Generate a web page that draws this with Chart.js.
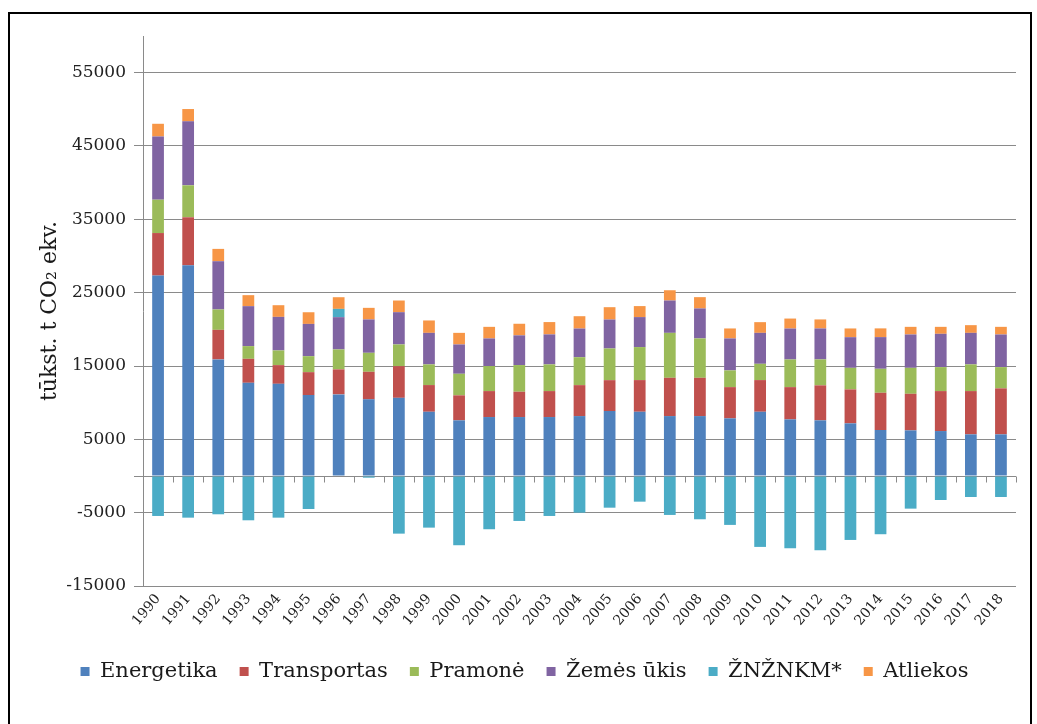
<!DOCTYPE html>
<html lang="lt">
<head>
<meta charset="utf-8">
<title>Šiltnamio efektą sukeliančių dujų emisijos</title>
<script src="https://cdn.jsdelivr.net/npm/chart.js@4.4.1/dist/chart.umd.min.js"></script>
<style>
    html, body { margin: 0; padding: 0; background: #fff; }
    #wrap { position: absolute; left: 0; top: 0; width: 1037px; height: 724px; }
    #frame {
        position: absolute; left: 8px; top: 12px; width: 1020px; height: 720px;
        border: 2px solid #000; pointer-events: none;
    }
</style>
</head>
<body>
<div id="wrap"><canvas id="emissionsChart"></canvas></div>
<div id="frame"></div>
<script>
// Data (tūkst. t CO2 ekv.)
const years = ['1990', '1991', '1992', '1993', '1994', '1995', '1996', '1997', '1998', '1999',
    '2000', '2001', '2002', '2003', '2004', '2005', '2006', '2007', '2008', '2009',
    '2010', '2011', '2012', '2013', '2014', '2015', '2016', '2017', '2018'];

const energetika = [27330, 28740, 15900, 12710, 12570, 11030, 11130, 10450, 10660, 8760,
    7590, 8040, 8040, 8040, 8170, 8850, 8760, 8170, 8170, 7860,
    8760, 7720, 7590, 7180, 6270, 6220, 6130, 5680, 5680];

const transportas = [5800, 6540, 4030, 3270, 2550, 3130, 3410, 3760, 4320, 3640,
    3410, 3540, 3450, 3540, 4220, 4220, 4320, 5220, 5220, 4260,
    4320, 4400, 4770, 4630, 5080, 4990, 5450, 5900, 6270];

const pramone = [4550, 4360, 2780, 1730, 2000, 2180, 2720, 2590, 2960, 2820,
    2940, 3410, 3640, 3640, 3810, 4320, 4500, 6130, 5370, 2280,
    2220, 3770, 3540, 2940, 3270, 3540, 3270, 3640, 2900];

const zemesUkis = [8620, 8720, 6580, 5450, 4580, 4400, 4400, 4550, 4400, 4300,
    4000, 3770, 4050, 4090, 3910, 3950, 4090, 4410, 4090, 4360,
    4220, 4220, 4220, 4180, 4320, 4550, 4540, 4300, 4450];

const znznkm = [-5450, -5680, -5220, -6040, -5680, -4500, 1130, -230, -7860, -7040,
    -9440, -7260, -6130, -5450, -5000, -4320, -3500, -5310, -5900, -6670,
    -9670, -9850, -10120, -8720, -7940, -4450, -3270, -2860, -2860];

const atliekos = [1730, 1680, 1680, 1500, 1590, 1590, 1590, 1580, 1590, 1690,
    1580, 1580, 1580, 1680, 1680, 1680, 1500, 1400, 1540, 1360,
    1460, 1360, 1230, 1190, 1190, 1040, 950, 1050, 1040];

const yTicks = [-15000, -5000, 0, 5000, 15000, 25000, 35000, 45000, 55000];

const gridColor = '#8a8a8a';
const serif = "'DejaVu Serif', 'Liberation Serif', serif";

Chart.defaults.font.family = serif;
Chart.defaults.color = '#222';

// small tick marks between categories on the zero line
const zeroTicks = {
    id: 'zeroTicks',
    afterDatasetsDraw(chart) {
        const { ctx, scales: { x, y } } = chart;
        const y0 = Math.round(y.getPixelForValue(0)) + 0.5;
        ctx.save();
        ctx.strokeStyle = gridColor;
        ctx.lineWidth = 1;
        for (let i = 0; i <= years.length; i++) {
            const px = Math.round(x.getPixelForValue(i - 0.5)) + 0.5;
            ctx.beginPath();
            ctx.moveTo(px, y0);
            ctx.lineTo(px, y0 + 6);
            ctx.stroke();
        }
        ctx.restore();
    }
};

function bars(label, data, color) {
    return {
        label: label,
        data: data,
        backgroundColor: color,
        borderWidth: 0,
        barPercentage: 0.39,
        categoryPercentage: 1.0
    };
}

new Chart(document.getElementById('emissionsChart'), {
    type: 'bar',
    data: {
        labels: years,
        datasets: [
            bars('Energetika', energetika, '#4f81bd'),
            bars('Transportas', transportas, '#c0504d'),
            bars('Pramonė', pramone, '#9bbb59'),
            bars('Žemės ūkis', zemesUkis, '#8064a2'),
            bars('ŽNŽNKM*', znznkm, '#4bacc6'),
            bars('Atliekos', atliekos, '#f79646')
        ]
    },
    options: {
        responsive: true,
        maintainAspectRatio: false,
        animation: false,
        layout: {
            padding: { left: 33, top: 36, right: 21, bottom: 32 }
        },
        plugins: {
            tooltip: { enabled: false },
            legend: {
                position: 'bottom',
                labels: {
                    font: { size: 21 },
                    color: '#1a1a1a',
                    boxWidth: 9,
                    boxHeight: 9,
                    padding: 22
                }
            }
        },
        scales: {
            x: {
                stacked: true,
                grid: { display: false, drawTicks: false },
                border: { display: false },
                ticks: {
                    autoSkip: false,
                    minRotation: 50,
                    maxRotation: 50,
                    padding: 5,
                    font: { size: 14 },
                    color: '#222'
                },
                afterFit(scale) { scale.height = 53; }
            },
            y: {
                stacked: true,
                min: -15000,
                max: 60000,
                afterBuildTicks(scale) {
                    scale.ticks = yTicks.map(v => ({ value: v }));
                },
                afterFit(scale) { scale.width = 110; },
                grid: {
                    color: gridColor,
                    lineWidth: 1,
                    tickLength: 9
                },
                border: { color: gridColor },
                ticks: {
                    padding: 8,
                    font: { size: 17 },
                    color: '#222',
                    callback: v => (v === 0 ? '' : String(v))
                },
                title: {
                    display: true,
                    text: 'tūkst. t CO₂ ekv.',
                    font: { size: 22 },
                    color: '#1a1a1a',
                    padding: { top: 4, bottom: 0 }
                }
            }
        }
    },
    plugins: [zeroTicks]
});
</script>
</body>
</html>
